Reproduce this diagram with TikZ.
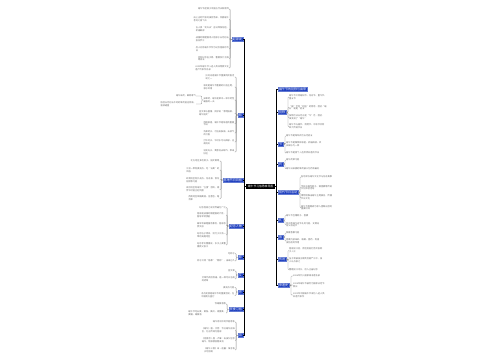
\documentclass[tikz,border=0pt]{standalone}
\usepackage{fontspec}
\setmainfont{Noto Sans CJK SC}
\usepackage{tikz}
\definecolor{mapblue}{HTML}{1E3FBF}
\definecolor{leafgray}{HTML}{6A6A6A}
\definecolor{twiggray}{HTML}{8A8A8A}
\tikzset{
    rootbox/.style = {
        fill = black,
        text = white,
        font = \fontsize{2.8}{3.3}\selectfont,
        inner xsep = 1.8pt,
        inner ysep = 1pt
    },
    branchbox/.style = {
        fill = mapblue,
        draw = mapblue!70!white,
        line width = 0.3pt,
        text = white,
        font = \fontsize{3}{3.6}\selectfont,
        inner xsep = 1pt,
        inner ysep = 0.7pt
    },
    leafnote/.style = {
        text = leafgray,
        font = \fontsize{2.2}{2.7}\selectfont,
        align = left,
        inner sep = 0pt
    },
    trunk/.style = {
        draw = black,
        line width = 0.7pt
    },
    twig/.style = {
        draw = twiggray,
        line width = 0.3pt,
        rounded corners = 0.8pt
    },
    lefttrunk/.style = {to path = {(\tikztostart.west) -- ++(-2pt,0pt) |- (\tikztotarget.east)}},
    righttrunk/.style = {to path = {(\tikztostart.east) -- ++(1.5pt,0pt) |- (\tikztotarget.west)}},
    leftbrace/.style = {to path = {(\tikztostart.west) -- ++(-1.6pt,0pt) |- (\tikztotarget.east)}},
    rightbrace/.style = {to path = {(\tikztostart.east) -- ++(1.6pt,0pt) |- (\tikztotarget.west)}}
}

\begin{document}
\begin{tikzpicture}[x=1pt, y=-1pt]
\useasboundingbox (0,0) rectangle (500,360);
        \node (root) [rootbox] at (260.5,186.5) {端午节习俗思维导图};

%left branches
        \node (L1) [branchbox, anchor=east] at (243,39.5) {起源说};
        \node (L2) [branchbox, anchor=east] at (243,115) {俗};
        \node (L3) [branchbox, anchor=east] at (243,180) {各地节日风俗};
        \node (L4) [branchbox, anchor=east] at (243,226) {纪念人物};
        \node (L5) [branchbox, anchor=east] at (243,257.5) {粽};
        \node (L6) [branchbox, anchor=east] at (243,275) {艾};
        \node (L7) [branchbox, anchor=east] at (243,292) {舟};
        \node (L8) [branchbox, anchor=east] at (243,309.5) {饮食习俗};
        \node (L9) [branchbox, anchor=east] at (243,335.5) {诗};

%right branches
        \node (R0) [branchbox, anchor=west] at (278,89.5) {端午节的别称与由来};
        \node (R1) [branchbox, anchor=west] at (278,112.5) {别称};
        \node (R2) [branchbox, anchor=west] at (278,144) {节};
        \node (R3) [branchbox, anchor=west] at (278,164) {药};
        \node (R4) [branchbox, anchor=west] at (278,192.5) {现代节日活动};
        \node (R5) [branchbox, anchor=west] at (278,220.5) {礼};
        \node (R6) [branchbox, anchor=west] at (278,237) {香};
        \node (R7) [branchbox, anchor=west] at (278,259.5) {传说};
        \node (R8) [branchbox, anchor=west] at (278,285.5) {申遗史};

        \path[trunk, lefttrunk] (root) edge (L1) edge (L2) edge (L3) edge (L4) edge (L5) edge (L6) edge (L7) edge (L8) edge (L9);
        \path[trunk, righttrunk] (root) edge (R0) edge (R1) edge (R2) edge (R3) edge (R4) edge (R5) edge (R6) edge (R7) edge (R8);

%leaves of L1
        \node (L1a) [leafnote, anchor=east] at (229,9) {端午节起源于中国古代天象崇拜};
        \node (L1b) [leafnote, anchor=east] at (229,19.5) {由上古时代祭龙演变而来，仲夏端午\\苍龙七宿飞升};
        \node (L1c) [leafnote, anchor=east] at (229,29) {古人择“龙升天”吉日拜祭龙祖，\\祈福辟邪};
        \node (L1d) [leafnote, anchor=east] at (229,39) {战国时期楚国诗人屈原于五月初五\\投汨罗江};
        \node (L1e) [leafnote, anchor=east] at (229,49) {后人亦将端午节作为纪念屈原的节\\日};
        \node (L1f) [leafnote, anchor=east] at (229,58.5) {另有纪念伍子胥、曹娥及介子推\\等说法};
        \node (L1g) [leafnote, anchor=east] at (229,68) {2009年端午节入选人类非物质文化\\遗产代表作名录};
        \path[twig, leftbrace] (L1) edge (L1a) edge (L1b) edge (L1c) edge (L1d) edge (L1e) edge (L1f) edge (L1g);

%leaves of L2
        \node (L2a) [leafnote, anchor=east] at (234.5,77) {扒龙舟是端午节重要的民俗活\\动之一};
        \node (L2b) [leafnote, anchor=east] at (234.5,87) {祭龙是端午节重要的礼俗主题，\\源于岭南};
        \node (L2c) [leafnote, anchor=east] at (234.5,100) {采草药，端午是草木一年中药性\\最强的一天};
        \node (L2d) [leafnote, anchor=east] at (234.5,113.5) {挂艾草与菖蒲，民谚说“清明插柳，\\端午插艾”};
        \node (L2e) [leafnote, anchor=east] at (234.5,123.5) {拜神祭祖，端午节是祭祖的重要\\节日};
        \node (L2f) [leafnote, anchor=east] at (234.5,133) {洗草药水，可治皮肤病、去邪气\\的习俗};
        \node (L2g) [leafnote, anchor=east] at (234.5,142) {打午时水，午时水可以辟邪、治\\病消灾};
        \node (L2h) [leafnote, anchor=east] at (234.5,152) {浸龙舟水，寓意洗去晦气、带来\\好运};
        \path[twig, leftbrace] (L2) edge (L2a) edge (L2b) edge (L2c) edge (L2d) edge (L2e) edge (L2f) edge (L2g) edge (L2h);
        \node (L2c1) [leafnote, anchor=east] at (196,96) {端午采药，辟除毒气};
        \node (L2c2) [leafnote, anchor=east] at (196,104) {俗信五月初五午时的草药能治百病、\\驱邪避瘟};
        \path[twig, leftbrace] (L2c) edge (L2c1) edge (L2c2);

%leaves of L3
        \node (L3a) [leafnote, anchor=east] at (219.5,161) {北方地区多吃粽子、插艾蒿等};
        \node (L3b) [leafnote, anchor=east] at (219.5,170) {江浙一带有赛龙舟、吃“五黄”的\\风俗};
        \node (L3c) [leafnote, anchor=east] at (219.5,180) {岭南地区有扒龙舟、龙舟景、食龙\\船饭等习俗};
        \node (L3d) [leafnote, anchor=east] at (219.5,189.5) {闽台地区有端午“立蛋”游戏，相\\传午时能立起鸡蛋};
        \node (L3e) [leafnote, anchor=east] at (219.5,198.5) {西南地区喝雄黄酒、挂香包、踏\\百草};
        \path[twig, leftbrace] (L3) edge (L3a) edge (L3b) edge (L3c) edge (L3d) edge (L3e);

%leaves of L4
        \node (L4a) [leafnote, anchor=east] at (226,207.5) {纪念屈原之说流传最为广泛};
        \node (L4b) [leafnote, anchor=east] at (226,215) {屈原是战国时期楚国的大臣，\\倡导举贤授能};
        \node (L4c) [leafnote, anchor=east] at (226,225) {秦军攻破楚国京都后，屈原悲\\愤交加};
        \node (L4d) [leafnote, anchor=east] at (226,235) {纪念伍子胥说，流行于江浙一\\带的吴越地区};
        \node (L4e) [leafnote, anchor=east] at (226,245) {纪念孝女曹娥说，东汉上虞曹\\娥救父投江};
        \path[twig, leftbrace] (L4) edge (L4a) edge (L4b) edge (L4c) edge (L4d) edge (L4e);

%leaves of L5 to L9
        \node (L5a) [leafnote, anchor=east] at (235,253.5) {吃粽子};
        \node (L5b) [leafnote, anchor=east] at (235,261) {粽子又称“角黍”“筒粽”，由来已久};
        \path[twig, leftbrace] (L5) edge (L5a) edge (L5b);
        \node (L6a) [leafnote, anchor=east] at (235,271) {挂艾草};
        \node (L6b) [leafnote, anchor=east] at (235,279) {艾草代表招百福，是一种可以治病\\的药草};
        \path[twig, leftbrace] (L6) edge (L6a) edge (L6b);
        \node (L7a) [leafnote, anchor=east] at (234.5,287.5) {赛龙舟习俗};
        \node (L7b) [leafnote, anchor=east] at (234.5,295.5) {龙舟竞渡是端午节的重要活动，在\\中国南方盛行};
        \path[twig, leftbrace] (L7) edge (L7a) edge (L7b);
        \node (L8a) [leafnote, anchor=east] at (226,304) {饮雄黄酒等};
        \node (L8b) [leafnote, anchor=east] at (226,313) {端午节吃五黄，黄鱼、黄瓜、咸蛋黄、\\黄鳝、雄黄酒};
        \path[twig, leftbrace] (L8) edge (L8a) edge (L8b);
        \node (L9a) [leafnote, anchor=east] at (235,322) {端午诗词中的节俗意象};
        \node (L9b) [leafnote, anchor=east] at (235,330.5) {《端午》唐·文秀：节分端午自谁\\言，万古传闻为屈原};
        \node (L9c) [leafnote, anchor=east] at (235,340.5) {《竞渡诗》唐·卢肇：石溪久住思\\端午，馆驿楼前看发机};
        \node (L9d) [leafnote, anchor=east] at (235,350) {《端午三首》宋·赵蕃：谁言临\\水可招魂};
        \path[twig, leftbrace] (L9) edge (L9a) edge (L9b) edge (L9c) edge (L9d);

%leaves of R1
        \node (R1a) [leafnote, anchor=west] at (289,97) {端午节又称端阳节、龙舟节、重午节、\\重五节};
        \node (R1b) [leafnote, anchor=west] at (289,107.5) {“端”字有“初始”的意思，因此“端\\五”就是“初五”};
        \node (R1c) [leafnote, anchor=west] at (289,117.5) {按照历法五月正是“午”月，因此\\演变成了“端午”};
        \node (R1d) [leafnote, anchor=west] at (289,126.5) {端午节与春节、清明节、中秋节并称\\四大传统节日};
        \path[twig, rightbrace] (R1) edge (R1a) edge (R1b) edge (R1c) edge (R1d);

%leaves of R2 and R3
        \node (R2a) [leafnote, anchor=west] at (286,136) {端午节是每年农历五月初五};
        \node (R2b) [leafnote, anchor=west] at (286,144) {端午节是集拜神祭祖、祈福辟邪、欢\\庆娱乐为一体};
        \node (R2c) [leafnote, anchor=west] at (286,153) {端午节是首个入选世界非遗的节日};
        \path[twig, rightbrace] (R2) edge (R2a) edge (R2b) edge (R2c);
        \node (R3a) [leafnote, anchor=west] at (286,160) {端午药草习俗};
        \node (R3b) [leafnote, anchor=west] at (286,168.5) {端午日采摘的草药被认为药效最好};
        \path[twig, rightbrace] (R3) edge (R3a) edge (R3b);

%leaves of R4
        \node (R4a) [leafnote, anchor=west] at (301,177) {各地举办端午文化节与龙舟赛事};
        \node (R4b) [leafnote, anchor=west] at (301,187.5) {学校开展包粽子、做香囊等传统\\文化体验活动};
        \node (R4c) [leafnote, anchor=west] at (301,197.5) {博物馆推出端午主题展览，传播\\节日文化};
        \node (R4d) [leafnote, anchor=west] at (301,207.5) {端午节假期成为家人团聚出游的\\重要时间};
        \path[twig, rightbrace] (R4) edge (R4a) edge (R4b) edge (R4c) edge (R4d);

%leaves of R5 to R8
        \node (R5a) [leafnote, anchor=west] at (286,215.5) {端午节互赠粽子、香囊};
        \node (R5b) [leafnote, anchor=west] at (286,224.5) {民间有端午送节礼的习俗，女婿向\\岳父母送节};
        \path[twig, rightbrace] (R5) edge (R5a) edge (R5b);
        \node (R6a) [leafnote, anchor=west] at (286,233) {佩戴香囊习俗};
        \node (R6b) [leafnote, anchor=west] at (286,241) {香囊内装朱砂、雄黄、香药，有驱\\虫防疫的作用};
        \path[twig, rightbrace] (R6) edge (R6a) edge (R6b);
        \node (R7a) [leafnote, anchor=west] at (289,250.5) {屈原投江后，百姓划船打捞并投粽\\子入江};
        \node (R7b) [leafnote, anchor=west] at (289,260) {伍子胥被吴王赐死后抛尸江中，吴\\人以舟祭之};
        \node (R7c) [leafnote, anchor=west] at (289,269.5) {曹娥投江寻父，后人立庙纪念};
        \path[twig, rightbrace] (R7) edge (R7a) edge (R7b) edge (R7c);
        \node (R8a) [leafnote, anchor=west] at (293,276) {2006年列入国家级非遗名录};
        \node (R8b) [leafnote, anchor=west] at (293,285) {2008年端午节被列为国家法定节\\假日};
        \node (R8c) [leafnote, anchor=west] at (293,295) {2009年中国端午节成功入选人类\\非遗代表作};
        \path[twig, rightbrace] (R8) edge (R8a) edge (R8b) edge (R8c);

   \end{tikzpicture}
\end{document}
